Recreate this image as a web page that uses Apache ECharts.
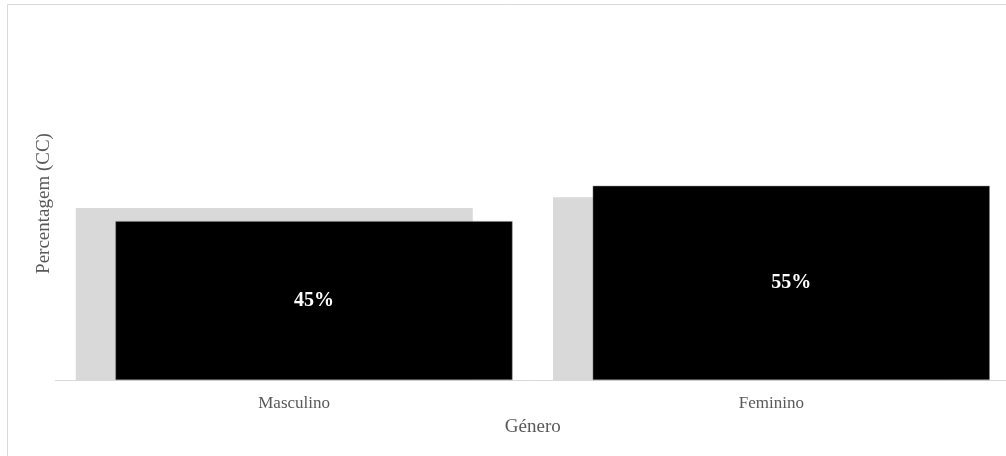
<!DOCTYPE html>
<html>
<head>
<meta charset="utf-8">
<script src="https://cdn.jsdelivr.net/npm/echarts@6/dist/echarts.min.js"></script>
<style>
html,body{margin:0;padding:0;background:#fff;overflow:hidden;width:1006px;height:456px;}
#c{width:1010px;height:456px;}
</style>
</head>
<body>
<div id="c"></div>
<script>
var categories = ['Masculino', 'Feminino'];
var referenceValues = [48.7, 51.8];
var sampleValues = [45, 55];
var sampleLabels = ['45%', '55%'];
var xAxisTitle = 'Género';
var yAxisTitle = 'Percentagem (CC)';

var chart = echarts.init(document.getElementById('c'), null, {renderer: 'canvas'});
var serif = '"Liberation Serif", "DejaVu Serif", serif';
chart.setOption({
  animation: false,
  backgroundColor: '#ffffff',
  graphic: [{
    type: 'rect',
    shape: {x: 7.5, y: 4.5, width: 1010, height: 470},
    style: {fill: 'none', stroke: '#d9d9d9', lineWidth: 1},
    silent: true, z: -1
  }],
  grid: {left: 55.5, right: 0, top: 27, bottom: 76, containLabel: false},
  xAxis: {
    type: 'category',
    data: categories,
    name: xAxisTitle,
    nameLocation: 'middle',
    nameGap: 38,
    nameTextStyle: {fontFamily: serif, fontSize: 19, color: '#595959'},
    axisLine: {show: true, lineStyle: {color: '#d9d9d9', width: 1}},
    axisTick: {show: false},
    axisLabel: {fontFamily: serif, fontSize: 17, color: '#595959', margin: 15}
  },
  yAxis: {
    type: 'value',
    min: 0, max: 100,
    name: yAxisTitle,
    nameLocation: 'middle',
    nameGap: 2,
    nameRotate: 90,
    nameTextStyle: {fontFamily: serif, fontSize: 19, color: '#595959'},
    axisLine: {show: false},
    axisTick: {show: false},
    axisLabel: {show: false},
    splitLine: {show: false}
  },
  series: [{
    type: 'bar',
    data: referenceValues,
    barWidth: 397,
    barGap: '-90%',
    itemStyle: {color: '#d9d9d9'},
    silent: true
  }, {
    type: 'bar',
    data: sampleValues,
    barWidth: 397,
    itemStyle: {color: '#000000', borderColor: '#7f7f7f', borderWidth: 0.5},
    label: {
      show: true,
      position: 'inside',
      formatter: function (p) { return sampleLabels[p.dataIndex]; },
      fontFamily: serif,
      fontWeight: 'bold',
      fontSize: 20,
      color: '#ffffff'
    },
    silent: true
  }]
});
</script>
</body>
</html>
